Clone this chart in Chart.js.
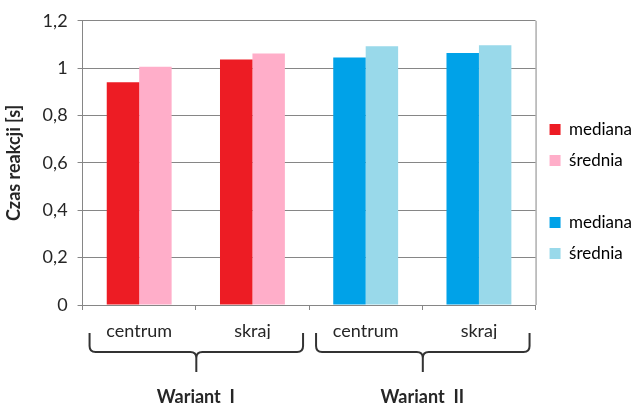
<!DOCTYPE html>
<html>
<head>
<meta charset="utf-8">
<script src="https://cdn.jsdelivr.net/npm/chart.js@4"></script>
<style>
  html, body { margin: 0; padding: 0; background: #fff; overflow: hidden; }
  #wrap { width: 635px; height: 406px; }
</style>
</head>
<body>
<div id="wrap"><canvas id="chartReakcja"></canvas></div>
<script>
// data
const categories = ["centrum", "skraj", "centrum", "skraj"];
const groups = ["Wariant  I", "Wariant  II"];
const medianaI = [0.941, 1.037, null, null];
const sredniaI = [1.006, 1.062, null, null];
const medianaII = [null, null, 1.045, 1.064];
const sredniaII = [null, null, 1.093, 1.097];
const yTicks = [0, 0.2, 0.4, 0.6, 0.8, 1, 1.2];

const textColor = "#262626";
const lineColor = "#868686";

Chart.defaults.font.family = "Lato, 'Open Sans', sans-serif";
Chart.defaults.color = textColor;

const data = {
  labels: categories,
  datasets: [
    { label: "mediana", data: medianaI, backgroundColor: "#ED1C24" },
    { label: "średnia", data: sredniaI, backgroundColor: "#FFAEC9" },
    { label: "mediana", data: medianaII, backgroundColor: "#00A2E8" },
    { label: "średnia", data: sredniaII, backgroundColor: "#99D9EA" },
  ],
};

// braces under the category pairs + right border of the plot
const bracesPlugin = {
  id: "braces",
  afterDraw(chart) {
    const { ctx, chartArea } = chart;
    const x = chart.scales.x;
    const step = x.width / categories.length;

    ctx.save();
    ctx.strokeStyle = lineColor;
    ctx.lineWidth = 1;
    ctx.beginPath();
    ctx.moveTo(chartArea.right + 0.5, chartArea.top);
    ctx.lineTo(chartArea.right + 0.5, chartArea.bottom);
    ctx.stroke();

    ctx.strokeStyle = "#333";
    ctx.lineWidth = 2;
    const y0 = chartArea.bottom + 28;
    const y1 = chartArea.bottom + 47;
    const y2 = chartArea.bottom + 67;
    const r = 6;
    groups.forEach((g, i) => {
      const L = x.getPixelForValue(i * 2) - step / 2 + 7;
      const R = x.getPixelForValue(i * 2 + 1) + step / 2 - 6;
      const c = (L + R) / 2;
      ctx.beginPath();
      ctx.moveTo(L, y0);
      ctx.lineTo(L, y1 - r);
      ctx.quadraticCurveTo(L, y1, L + r, y1);
      ctx.lineTo(c - r, y1);
      ctx.quadraticCurveTo(c, y1, c, y1 + r);
      ctx.lineTo(c, y2);
      ctx.moveTo(c, y1 + r);
      ctx.quadraticCurveTo(c, y1, c + r, y1);
      ctx.lineTo(R - r, y1);
      ctx.quadraticCurveTo(R, y1, R, y1 - r);
      ctx.lineTo(R, y0);
      ctx.stroke();
    });
    ctx.restore();
  },
};

const config = {
  type: "bar",
  data,
  options: {
    responsive: true,
    maintainAspectRatio: false,
    animation: false,
    skipNull: true,
    categoryPercentage: 0.573,
    barPercentage: 1.0,
    layout: { padding: { top: 8, left: 3, right: -7, bottom: 0 } },
    plugins: {
      tooltip: { enabled: false },
      legend: {
        position: "right",
        labels: {
          boxWidth: 11,
          boxHeight: 11,
          padding: 14,
          font: { size: 17 },
          color: textColor,
          generateLabels: (chart) => {
            const items = [];
            chart.data.datasets.forEach((ds, i) => {
              items.push({
                text: ds.label,
                fillStyle: ds.backgroundColor,
                strokeStyle: ds.backgroundColor,
                lineWidth: 0,
                datasetIndex: i,
                hidden: false,
              });
              if (i % 2 === 1) {
                items.push({
                  text: "",
                  fillStyle: "rgba(0,0,0,0)",
                  strokeStyle: "rgba(0,0,0,0)",
                  lineWidth: 0,
                  hidden: false,
                });
              }
            });
            return items;
          },
        },
      },
    },
    scales: {
      x: {
        grid: { drawOnChartArea: false, tickLength: 5, color: lineColor },
        border: { color: lineColor },
        ticks: { font: { size: 18 }, padding: 10, maxRotation: 0 },
        afterFit: (scale) => { scale.height = 34; },
      },
      x2: {
        type: "category",
        labels: groups,
        position: "bottom",
        offset: true,
        grid: { display: false, drawTicks: false },
        border: { display: false },
        ticks: { font: { size: 18, weight: "bold" }, padding: 47, maxRotation: 0 },
        afterFit: (scale) => { scale.height = 67; },
      },
      y: {
        min: 0,
        max: 1.2,
        afterBuildTicks: (axis) => {
          axis.ticks = yTicks.map((v) => ({ value: v }));
        },
        grid: { color: lineColor, tickLength: 5 },
        border: { color: lineColor },
        ticks: {
          font: { size: 18 },
          padding: 10,
          callback: (v) => String(Math.round(v * 10) / 10).replace(".", ","),
        },
        title: {
          display: true,
          text: "Czas reakcji [s]",
          font: { size: 18, weight: "bold" },
          padding: { top: 0, bottom: 8 },
        },
      },
    },
  },
  plugins: [bracesPlugin],
};

var chartReakcja = new Chart(document.getElementById("chartReakcja"), config);
</script>
</body>
</html>
